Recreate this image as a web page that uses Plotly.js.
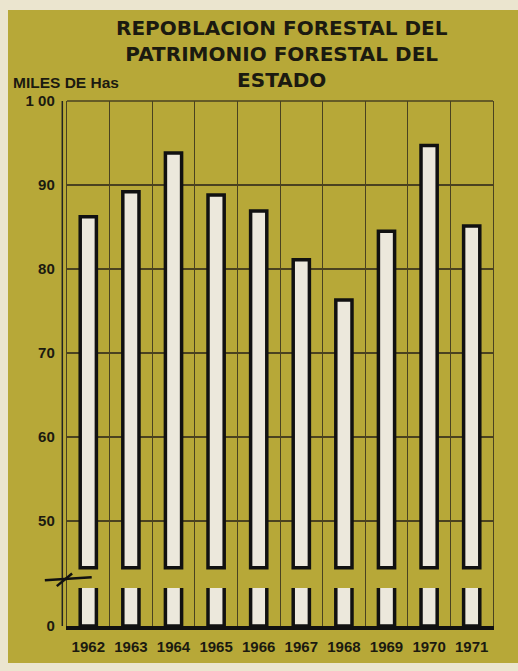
<!DOCTYPE html>
<html>
<head>
<meta charset="utf-8">
<script src="https://cdn.plot.ly/plotly-3.0.1.min.js"></script>
<style>
  html, body { margin: 0; padding: 0; background: #ebe5cf; width: 518px; height: 671px; overflow: hidden; }
  #chart { position: absolute; left: 8px; top: 10px; width: 510px; height: 653px; }
</style>
</head>
<body>
<div id="chart"></div>
<script>
// Data
const years = ['1962', '1963', '1964', '1965', '1966', '1967', '1968', '1969', '1970', '1971'];
const hectares = [86.2, 89.2, 93.8, 88.8, 86.9, 81.1, 76.3, 84.5, 94.7, 85.1]; // miles de Has
const upperTicks = [50, 60, 70, 80, 90, 100];
const upperTickText = ['50', '60', '70', '80', '90', '1 00'];
const lowerTicks = [0];
const titleLines = ['REPOBLACION FORESTAL DEL', 'PATRIMONIO FORESTAL DEL', 'ESTADO'];
const unitLabel = 'MILES DE Has';

// Styles / axis break settings
const BREAK_BASE = 44.4;      // where upper bar segments start
const UPPER_RANGE = [42.0, 100];
const LOWER_RANGE = [0, 4.52];
const SPLIT = 0.0724;         // domain split between lower and upper panels
const ink = '#1b1a10';
const grid = '#4a4220';
const olive = '#b7a838';
const barFill = '#ece8dc';
const tickFont = { family: 'Liberation Sans, Arial, sans-serif', size: 15, color: ink, weight: 'bold' };

const upper = {
  type: 'bar', x: years,
  y: hectares.map(v => v - BREAK_BASE), base: BREAK_BASE,
  xaxis: 'x', yaxis: 'y', width: 0.38,
  marker: { color: barFill, line: { color: '#111', width: 3.5 } },
  hoverinfo: 'skip'
};
const lower = {
  type: 'bar', x: years, y: hectares,
  xaxis: 'x', yaxis: 'y2', width: 0.38,
  marker: { color: barFill, line: { color: '#111', width: 3.5 } },
  hoverinfo: 'skip'
};

const annotations = [{
  text: titleLines.join('<br>'), xref: 'paper', yref: 'paper', x: 0.505, y: 1.09,
  xanchor: 'center', yanchor: 'middle', align: 'center', showarrow: false,
  font: { family: 'DejaVu Sans, Liberation Sans, sans-serif', size: 20, color: ink, weight: 'bold' }
}, {
  text: unitLabel, xref: 'paper', yref: 'paper', x: -0.132, y: 1.036,
  xanchor: 'left', yanchor: 'middle', showarrow: false,
  font: { family: 'Liberation Sans, Arial, sans-serif', size: 15.5, color: ink, weight: 'bold' }
}];

const layout = {
  width: 510, height: 653,
  margin: { l: 59, r: 25, t: 91, b: 37 },
  paper_bgcolor: olive, plot_bgcolor: olive,
  showlegend: false, bargap: 0.62,
  xaxis: {
    type: 'category', anchor: 'y2', domain: [0, 1],
    tickson: 'boundaries', showgrid: true, gridcolor: grid, gridwidth: 1,
    ticks: '', showline: true, linecolor: '#111', linewidth: 4,
    tickfont: tickFont, ticklabelstandoff: 4
  },
  yaxis: {
    domain: [SPLIT, 1], range: UPPER_RANGE, tickvals: upperTicks, ticktext: upperTickText,
    showgrid: true, gridcolor: grid, gridwidth: 1.5, zeroline: false,
    showline: true, linecolor: grid, linewidth: 1.2, mirror: true,
    ticks: '', tickfont: tickFont, ticklabelstandoff: 8
  },
  yaxis2: {
    domain: [0, SPLIT], range: LOWER_RANGE, tickvals: lowerTicks,
    showgrid: false, zeroline: false,
    showline: true, linecolor: grid, linewidth: 1.2, mirror: true,
    ticks: '', tickfont: tickFont, ticklabelstandoff: 8
  },
  shapes: [
    // outer line of the double y-axis
    { type: 'line', xref: 'paper', yref: 'paper', x0: -0.011, x1: -0.011, y0: 0, y1: 1,
      line: { color: '#222', width: 1.5 } },
    // top border
    { type: 'line', xref: 'paper', yref: 'paper', x0: 0, x1: 1, y0: 1, y1: 1,
      line: { color: grid, width: 1.5 } },
    // axis-break marks
    { type: 'line', xref: 'paper', yref: 'paper', x0: -0.052, x1: 0.058, y0: 0.087, y1: 0.093,
      line: { color: '#111', width: 2.5 } },
    { type: 'line', xref: 'paper', yref: 'paper', x0: -0.024, x1: 0.012, y0: 0.076, y1: 0.100,
      line: { color: '#111', width: 2.5 } }
  ],
  annotations: annotations
};

Plotly.newPlot('chart', [upper, lower], layout, { displayModeBar: false, staticPlot: true });
</script>
</body>
</html>
